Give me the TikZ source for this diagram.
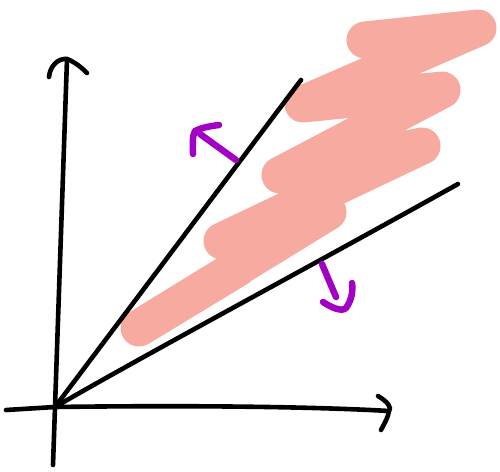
\documentclass[tikz,border=0pt]{standalone}
\definecolor{pinkfill}{RGB}{247,170,160}
\definecolor{purp}{RGB}{162,0,196}
\tikzset{
  ink/.style={line width=4.6pt, line cap=round, line join=round, black},
  scribble/.style={line width=37pt, line cap=round, line join=round, pinkfill},
  purplearrow/.style={line width=6.5pt, line cap=round, line join=round, purp}
}
\begin{document}
\begin{tikzpicture}[x=1pt,y=-1pt]
\useasboundingbox (0,0) rectangle (500,471);
% pink scribble
\draw[scribble] (365,40) -- (478,28) -- (303,104) -- (442,90) -- (280,175) -- (422,146) -- (222,241) -- (328,212) -- (139,328) -- (238,268);
% axes
\coordinate (O) at (55,407);
\coordinate (ytop) at (67,59);
\coordinate (ybot) at (53,465);
\coordinate (xleft) at (6,410);
\coordinate (xright) at (389,411);
\draw[ink] (ybot) -- (O) -- (ytop);
\draw[ink] (xleft) -- (O) .. controls (200,405) and (320,407) .. (xright);
\draw[ink] (49,77) .. controls (50,66) and (58,58) .. (ytop) .. controls (75,62) and (82,68) .. (87,73);
\draw[ink] (378,396) .. controls (388,402) and (392,408) .. (xright) .. controls (388,418) and (384,424) .. (381,430);
% two lines
\coordinate (l1) at (301,80);
\coordinate (l2) at (458,184);
\draw[ink] (O) -- (l1);
\draw[ink] (O) .. controls (150,352) and (300,272) .. (l2);
% purple arrows
\coordinate (a1s) at (236,160);
\coordinate (a1e) at (200,134);
\draw[purplearrow] (a1s) -- (a1e);
\draw[purplearrow] (193,154) .. controls (193,145) and (192,136) .. (195,131) .. controls (203,127) and (212,126) .. (219,125);
\coordinate (a2s) at (322,264);
\coordinate (a2e) at (336,297);
\draw[purplearrow] (a2s) -- (a2e);
\draw[purplearrow] (323,302) .. controls (332,308) and (342,312) .. (346,308) .. controls (352,300) and (353,290) .. (352,283);
\end{tikzpicture}
\end{document}
